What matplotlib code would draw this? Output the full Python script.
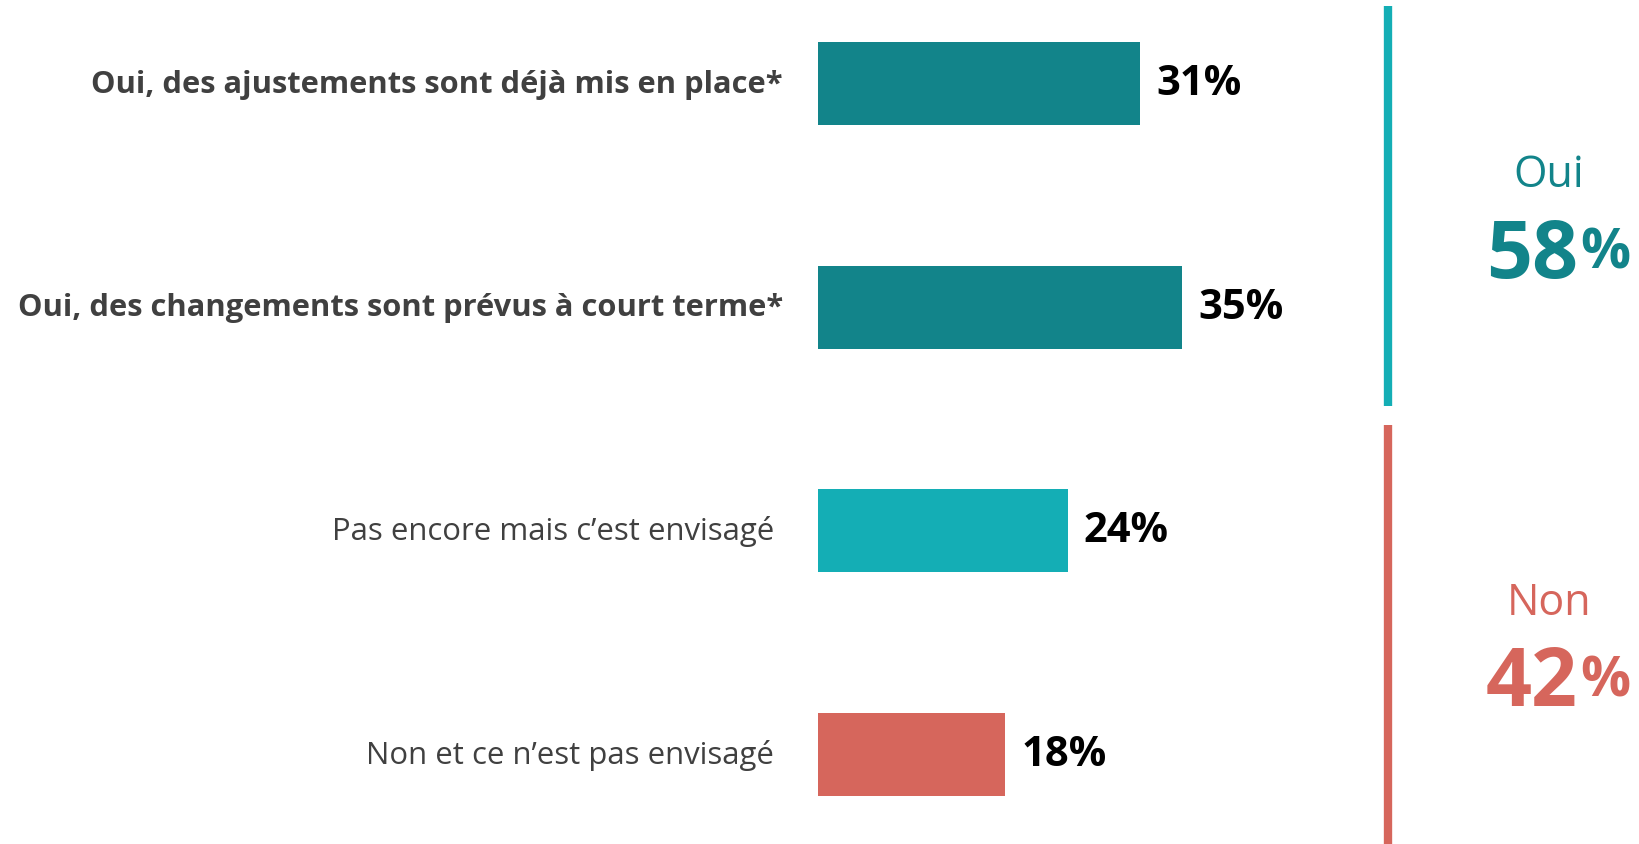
import matplotlib.pyplot as plt

categories = ["Oui, des ajustements sont déjà mis en place*",
              "Oui, des changements sont prévus à court terme*",
              "Pas encore mais c\u2019est envisagé",
              "Non et ce n\u2019est pas envisagé"]
values = [31, 35, 24, 18]
bold = [True, True, False, False]
colors = ["#12848A", "#12848A", "#14AEB5", "#D6665C"]

groups = ["Oui", "Non"]
group_totals = [58, 42]
group_colors = ["#12848A", "#D6665C"]
line_colors = ["#14AEB5", "#D6665C"]

plt.rcParams['font.family'] = ['Open Sans', 'DejaVu Sans']

W, H = 1640, 845
fig = plt.figure(figsize=(W / 100, H / 100), dpi=100)
# axes starts at the bar origin and runs to the right edge
x0 = 818
px_per_pct = 10.4
ax = fig.add_axes([x0 / W, 0, 1 - x0 / W, 1])
ax.set_xlim(0, (W - x0) / px_per_pct)

spacing = 223.7
top = -84.5 / spacing
bottom = top + H / spacing
ax.set_ylim(bottom, top)

pos = list(range(len(categories)))
bars = ax.barh(pos, values, height=83 / spacing, color=colors)

for bar, v in zip(bars, values):
    ax.text(bar.get_width() + 16 / px_per_pct, bar.get_y() + bar.get_height() / 2,
            f"{v}%", ha='left', va='center', fontsize=30, fontweight='bold',
            color='black')

for p, lab, b in zip(pos, categories, bold):
    ax.text(-35 / px_per_pct if b else -44 / px_per_pct, p, lab, ha='right',
            va='center', fontsize=22.2 if b else 22.4,
            fontweight='bold' if b else 'normal', color='#404040', clip_on=False)

# group brackets with totals centred on each bracket
line_x = (1388 - x0) / px_per_pct
text_x = (1549 - x0) / px_per_pct
split_x = (1578 - x0) / px_per_pct
spans = [(top + 7 / spacing, 1.44), (1.525, bottom)]
for (y1, y2), lc, g, t, gc in zip(spans, line_colors, groups, group_totals,
                                  group_colors):
    ax.plot([line_x, line_x], [y1, y2], color=lc, lw=6, solid_capstyle='butt')
    mid = (y1 + y2) / 2
    ax.text(text_x, mid - 0.14, g, ha='center', va='center', fontsize=31,
            color=gc)
    ax.text(split_x, mid + 0.18, f"{t}", ha='right', va='center_baseline',
            fontsize=58, fontweight='bold', color=gc)
    ax.text(split_x + 0.2, mid + 0.18, "%", ha='left', va='center_baseline',
            fontsize=40, fontweight='bold', color=gc)

ax.axis('off')
fig.savefig("out.png", dpi=100)
